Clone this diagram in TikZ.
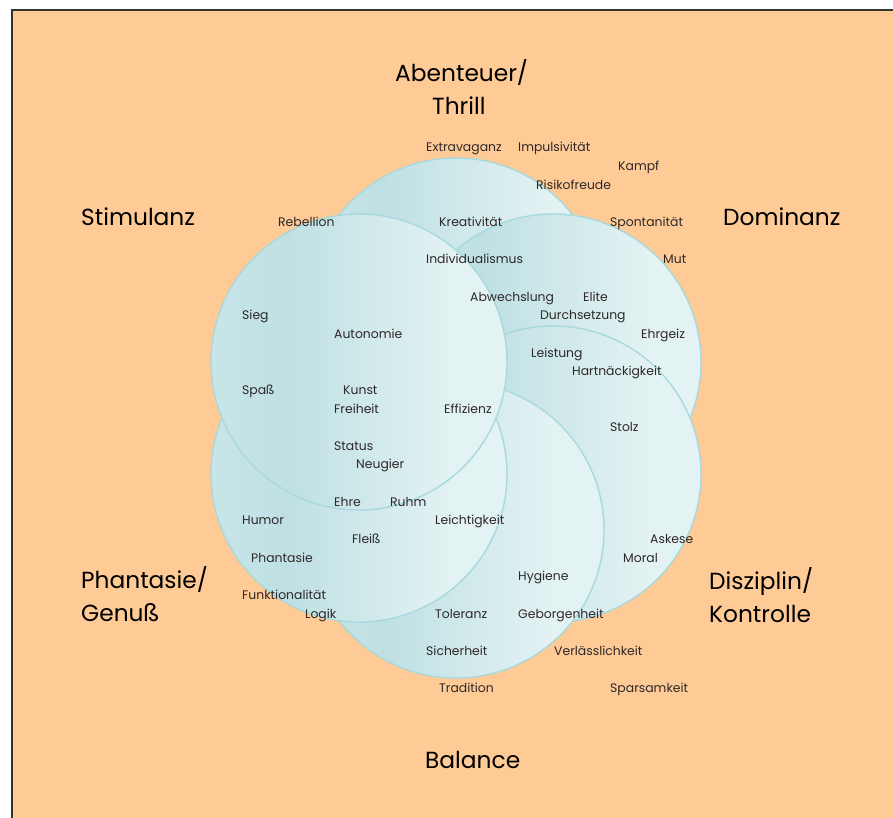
\documentclass[tikz,border=0pt]{standalone}
\usepackage{fontspec}
\setmainfont{Poppins}
\definecolor{peach}{HTML}{FECA96}
\definecolor{cedgel}{HTML}{C8E5E8}
\definecolor{cdark}{HTML}{BFE0E3}
\definecolor{clight}{HTML}{E3F2F3}
\definecolor{cedge}{HTML}{A8D9DC}
\definecolor{lblc}{HTML}{2E2828}
\pgfdeclarehorizontalshading{cshade}{100bp}{color(0bp)=(cedgel); color(25bp)=(cedgel); color(38bp)=(cdark); color(66bp)=(clight); color(100bp)=(clight)}
\tikzset{
  circ/.style={circle, minimum size=296pt, inner sep=0pt, outer sep=0pt, draw=cedge, line width=1.4pt, shading=cshade},
  lbl/.style={font=\fontsize{12.4}{14}\selectfont, text=lblc, inner sep=0pt, anchor=base west},
  big/.style={font=\fontsize{23.3}{32.5}\selectfont, text=black, inner sep=0pt, align=left, anchor=base west},
}
\newcommand\lb[4]{\node[lbl] (#1) at (#2,#3) {#4};}
\begin{document}
\begin{tikzpicture}[x=1pt,y=-1pt]
\useasboundingbox (0,0) rectangle (893,817);
\clip (0,0) rectangle (893,817);
\fill[white] (0,0) rectangle (893,817);
\draw[fill=peach, draw=black!80, line width=1.5pt] (12,10) rectangle (905,830);
% circles: top, top-right, bottom-right, bottom, bottom-left, top-left
\node[circ] (ctop) at (456,306) {};
\node[circ] (ctr) at (553,362) {};
\node[circ] (cbr) at (553,474) {};
\node[circ] (cbot) at (456,530) {};
\node[circ] (cbl) at (359,474) {};
\node[circ] (ctl) at (359,362) {};
% big labels
\node[big] (abent) at (395,114) {Abenteuer/\\\hspace*{37pt}Thrill};
\node[big] (stim) at (81,225) {Stimulanz};
\node[big] (domi) at (723,225) {Dominanz};
\node[big] (phan) at (81,621) {Phantasie/\\Genuß};
\node[big] (diszi) at (709,622) {Disziplin/\\Kontrolle};
\node[big] (bal) at (425,768) {Balance};
% small labels
\lb{l1}{426}{151}{Extravaganz}
\lb{l2}{518}{151}{Impulsivität}
\lb{l3}{618}{170}{Kampf}
\lb{l4}{536}{189}{Risikofreude}
\lb{l5}{278}{226}{Rebellion}
\lb{l6}{439}{226}{Kreativität}
\lb{l7}{610}{226}{Spontanität}
\lb{l8}{426}{263}{Individualismus}
\lb{l9}{663}{263}{Mut}
\lb{l10}{470}{301}{Abwechslung}
\lb{l11}{583}{301}{Elite}
\lb{l12}{540}{319}{Durchsetzung}
\lb{l13}{242}{319}{Sieg}
\lb{l14}{334}{338}{Autonomie}
\lb{l15}{641}{338}{Ehrgeiz}
\lb{l16}{531}{357}{Leistung}
\lb{l17}{572}{375}{Hartnäckigkeit}
\lb{l18}{242}{394}{Spaß}
\lb{l19}{343}{394}{Kunst}
\lb{l20}{334}{413}{Freiheit}
\lb{l21}{444}{413}{Effizienz}
\lb{l22}{610}{431}{Stolz}
\lb{l23}{334}{450}{Status}
\lb{l24}{356}{468}{Neugier}
\lb{l25}{334}{506}{Ehre}
\lb{l26}{390}{506}{Ruhm}
\lb{l27}{242}{524}{Humor}
\lb{l28}{435}{524}{Leichtigkeit}
\lb{l29}{352}{543}{Fleiß}
\lb{l30}{650}{543}{Askese}
\lb{l31}{251}{562}{Phantasie}
\lb{l32}{623}{562}{Moral}
\lb{l33}{518}{580}{Hygiene}
\lb{l34}{242}{599}{Funktionalität}
\lb{l35}{305}{618}{Logik}
\lb{l36}{435}{618}{Toleranz}
\lb{l37}{518}{618}{Geborgenheit}
\lb{l38}{426}{655}{Sicherheit}
\lb{l39}{554}{655}{Verlässlichkeit}
\lb{l40}{439}{692}{Tradition}
\lb{l41}{610}{692}{Sparsamkeit}
\end{tikzpicture}
\end{document}
